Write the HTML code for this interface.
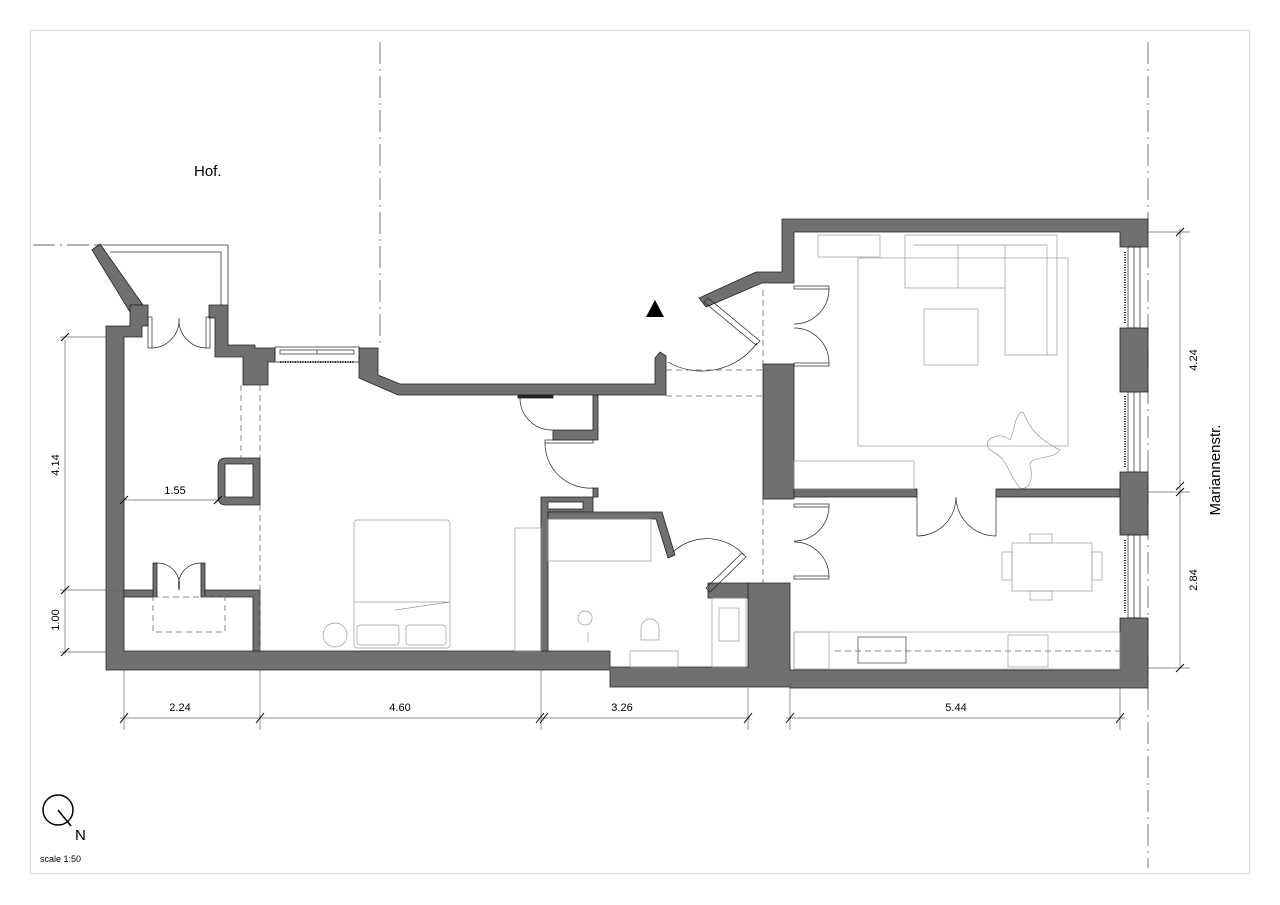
<!DOCTYPE html>
<html><head><meta charset="utf-8"><style>
html,body{margin:0;padding:0;background:#fff}
svg{display:block}
text{font-family:"Liberation Sans",sans-serif;fill:#000}
</style></head><body>
<svg width="1280" height="905" viewBox="0 0 1280 905" xmlns="http://www.w3.org/2000/svg">
<rect x="0" y="0" width="1280" height="905" fill="#fff"/>
<rect x="30.5" y="30.5" width="1219" height="843" fill="none" stroke="#d8d8d8" stroke-width="1"/>
<line x1="380" y1="42" x2="380" y2="345" stroke="#555" stroke-width="0.8" stroke-dasharray="22,5,2,5"/>
<line x1="1148" y1="42" x2="1148" y2="868" stroke="#555" stroke-width="0.8" stroke-dasharray="22,5,2,5"/>
<line x1="33" y1="245" x2="96" y2="245" stroke="#333" stroke-width="0.8" stroke-dasharray="22,5,2,5"/>
<polyline points="96,245 228,245 228,305" fill="none" stroke="#333" stroke-width="0.8"/>
<polyline points="110,252 221,252 221,305" fill="none" stroke="#333" stroke-width="0.8"/>

<g fill="#707070" stroke="#222" stroke-width="0.8">
<polygon points="92,250 100,244 143,305 130,305 130,312"/>
<polygon points="106,326 130,326 130,305 148,305 148,326 142,326 142,337 124,337 124,651 610,651 610,667 748,667 748,583 790,583 790,670 1120,670 1120,618 1148,618 1148,688 790,688 790,687 610,687 610,670 106,670"/>
<polygon points="209,305 228,305 228,345 255,345 255,348 275,348 275,362 268,362 268,385 243,385 243,357 215,357 215,318 209,318"/>
<polygon points="359,348 378,348 378,375 400,384 655,384 655,358 660,352 666,356 666,395 398,395 359,378"/>
<polygon points="782,219 1148,219 1148,247 1120,247 1120,232 794,232 794,283 762,283 706,307 699,298 756,272 782,272"/>
<rect x="1120" y="328" width="28" height="64"/>
<rect x="1120" y="472" width="28" height="63"/>
<rect x="763" y="364" width="31" height="135"/>
<rect x="794" y="489" width="123" height="8"/>
<rect x="996" y="489" width="124" height="8"/>
<path d="M226,458 H260 V505 H226 Q218,505 218,497 V466 Q218,458 226,458 Z M225,464 V497 H253 V464 Z" fill-rule="evenodd"/>
<rect x="124" y="590" width="29" height="7"/>
<polygon points="205,590 260,590 260,651 253,651 253,597 205,597"/>
<rect x="153" y="563" width="4" height="34"/>
<rect x="201" y="563" width="4" height="34"/>
<polygon points="593,395 598,395 598,440 553,440 553,430 593,430"/>
<rect x="518" y="395" width="35" height="3" fill="#222"/>
<polygon points="541,497 598,497 598,488 593,488 593,512 548,512 548,651 541,651"/>
<rect x="548" y="502" width="35" height="7" fill="#fff"/>
<polygon points="548,512 662,512 675,555 668,558 656,519 548,519"/>
<polygon points="708,583 748,583 748,598 708,598"/>
</g>

<g fill="none" stroke="#222" stroke-width="0.7">
<rect x="275" y="347" width="84" height="15"/>
<rect x="280" y="350" width="74" height="4"/>
<line x1="317" y1="350" x2="317" y2="354"/>
<line x1="280" y1="362" x2="354" y2="362" stroke-dasharray="1,1.5" stroke-width="2"/>
</g>
<g fill="none" stroke="#222" stroke-width="0.7">
<rect x="1128" y="247" width="12" height="81"/>
<rect x="1128" y="392" width="12" height="80"/>
<rect x="1128" y="535" width="12" height="83"/>
<line x1="1134" y1="247" x2="1134" y2="328"/>
<line x1="1134" y1="392" x2="1134" y2="472"/>
<line x1="1134" y1="535" x2="1134" y2="618"/>
<line x1="1125" y1="252" x2="1125" y2="323" stroke-dasharray="1,1.5" stroke-width="2"/>
<line x1="1125" y1="396" x2="1125" y2="468" stroke-dasharray="1,1.5" stroke-width="2"/>
<line x1="1125" y1="540" x2="1125" y2="613" stroke-dasharray="1,1.5" stroke-width="2"/>
</g>

<g fill="none" stroke="#222" stroke-width="0.7">
<rect x="148" y="317" width="4" height="31"/>
<rect x="206" y="317" width="4" height="31"/>
<path d="M152,348 A28,28 0 0 0 179,318 M206,348 A28,28 0 0 1 179,318"/>
<path d="M157,563 A22,22 0 0 1 179,590 M201,563 A22,22 0 0 0 179,590"/>
<polygon points="704,302 708,298 760,341 756,345"/>
<path d="M757,343 A68,68 0 0 1 668,362"/>
<rect x="794" y="286" width="35" height="3"/>
<rect x="794" y="363" width="35" height="3"/>
<path d="M829,289 A35,35 0 0 1 794,324 M829,363 A35,35 0 0 0 794,328"/>
<rect x="794" y="504" width="35" height="3"/>
<rect x="794" y="576" width="35" height="3"/>
<path d="M829,507 A35,35 0 0 1 794,541 M829,576 A35,35 0 0 0 794,542"/>
<line x1="917" y1="497" x2="917" y2="536"/>
<line x1="996" y1="497" x2="996" y2="536"/>
<path d="M917,536 A39,39 0 0 0 956,497 M996,536 A40,40 0 0 1 956,497"/>
<path d="M520,398 A32,32 0 0 0 553,430"/>
<rect x="545" y="440" width="48" height="3"/>
<path d="M545,443 A45,45 0 0 0 593,488"/>
<polygon points="706,588 710,592 746,557 742,553"/>
<path d="M744,555 A50,50 0 0 0 673,552"/>
</g>

<g stroke="#666" stroke-width="0.8" stroke-dasharray="6,4" fill="none">
<line x1="241" y1="385" x2="241" y2="458"/>
<line x1="260" y1="385" x2="260" y2="458"/>
<line x1="260" y1="505" x2="260" y2="651"/>
<rect x="153" y="597" width="72" height="35"/>
<line x1="666" y1="370" x2="763" y2="370"/>
<line x1="666" y1="396" x2="763" y2="396"/>
<line x1="763" y1="290" x2="763" y2="364"/>
<line x1="763" y1="499" x2="763" y2="583"/>
<line x1="835" y1="651" x2="1120" y2="651"/>
</g>

<g fill="none" stroke="#9a9a9a" stroke-width="0.7">
<rect x="354" y="520" width="96" height="128" rx="3"/>
<line x1="354" y1="602" x2="450" y2="602"/>
<line x1="395" y1="610" x2="450" y2="602"/>
<rect x="357" y="625" width="42" height="20" rx="3"/>
<rect x="406" y="625" width="40" height="20" rx="3"/>
<circle cx="335" cy="635" r="12"/>
<rect x="515" y="528" width="26" height="123"/>
<rect x="548" y="519" width="103" height="42"/>
<path d="M585,625 a7,7 0 1 1 0.1,0 M588,632 v10"/>
<path d="M641,640 v-12 a9,9 0 0 1 18,0 v12 z"/>
<rect x="630" y="651" width="48" height="16"/>
<rect x="712" y="598" width="34" height="69"/>
<rect x="719" y="608" width="20" height="33"/>
<rect x="818" y="235" width="62" height="22"/>
<rect x="858" y="258" width="210" height="188"/>
<polygon points="905,235 1057,235 1057,355 1005,355 1005,288 905,288"/>
<line x1="913" y1="245" x2="1047" y2="245"/>
<line x1="958" y1="245" x2="958" y2="288"/>
<line x1="1005" y1="245" x2="1005" y2="288"/>
<line x1="1047" y1="245" x2="1047" y2="355"/>
<rect x="924" y="309" width="54" height="56"/>
<path d="M1023,412 C1030,430 1040,440 1060,450 C1055,460 1030,455 1030,465 C1035,485 1025,490 1020,488 C1005,470 1010,460 990,450 C980,440 1000,430 1010,440 C1015,430 1015,412 1023,412 Z"/>
<rect x="794" y="461" width="120" height="28"/>
<rect x="1012" y="543" width="80" height="48"/>
<rect x="1030" y="534" width="22" height="9"/>
<rect x="1030" y="591" width="22" height="9"/>
<rect x="1002" y="552" width="10" height="28"/>
<rect x="1092" y="552" width="10" height="28"/>
<rect x="794" y="632" width="326" height="37"/>
<rect x="794" y="632" width="35" height="37"/>
<rect x="1008" y="635" width="40" height="32"/>
<rect x="858" y="637" width="48" height="26" stroke="#444"/>
</g>
<polygon points="646,317 664,317 655,300" fill="#000"/>

<g stroke="#666" stroke-width="0.7" fill="none">
<line x1="65" y1="340" x2="65" y2="655"/>
<line x1="60" y1="337" x2="106" y2="337"/>
<line x1="60" y1="590" x2="124" y2="590"/>
<line x1="60" y1="652" x2="106" y2="652"/>
<line x1="124" y1="500" x2="218" y2="500"/>
<line x1="120" y1="718" x2="750" y2="718"/>
<line x1="786" y1="718" x2="1125" y2="718"/>
<line x1="124" y1="670" x2="124" y2="730"/>
<line x1="260" y1="670" x2="260" y2="730"/>
<line x1="541" y1="670" x2="541" y2="730"/>
<line x1="748" y1="688" x2="748" y2="730"/>
<line x1="790" y1="688" x2="790" y2="730"/>
<line x1="1120" y1="688" x2="1120" y2="730"/>
<line x1="1180" y1="228" x2="1180" y2="668"/>
<line x1="1148" y1="232" x2="1190" y2="232"/>
<line x1="1148" y1="492" x2="1190" y2="492"/>
<line x1="1148" y1="668" x2="1190" y2="668"/>
</g>
<g stroke="#000" stroke-width="1">
<path d="M61,341 l8,-8 M61,594 l8,-8 M61,656 l8,-8 M120,504 l8,-8 M214,504 l8,-8
M120,723 l8,-10 M256,723 l8,-10 M536,723 l8,-10 M540,723 l8,-10 M744,723 l8,-10 M786,723 l8,-10 M1116,723 l8,-10
M1176,236 l8,-8 M1176,490 l8,-8 M1176,496 l8,-8 M1176,672 l8,-8"/>
</g>
<g font-size="11">
<text x="180" y="711" text-anchor="middle">2.24</text>
<text x="400" y="711" text-anchor="middle">4.60</text>
<text x="622" y="711" text-anchor="middle">3.26</text>
<text x="956" y="711" text-anchor="middle">5.44</text>
<text x="175" y="494" text-anchor="middle">1.55</text>
<text transform="translate(59,465) rotate(-90)" text-anchor="middle">4.14</text>
<text transform="translate(59,620) rotate(-90)" text-anchor="middle">1.00</text>
<text transform="translate(1197,360) rotate(-90)" text-anchor="middle">4.24</text>
<text transform="translate(1197,580) rotate(-90)" text-anchor="middle">2.84</text>
</g>
<text x="194" y="176" font-size="15">Hof.</text>
<text transform="translate(1220,470) rotate(-90)" font-size="15" text-anchor="middle">Mariannenstr.</text>
<circle cx="58" cy="810" r="15" fill="none" stroke="#000" stroke-width="1.5"/>
<line x1="58" y1="810" x2="71" y2="826" stroke="#000" stroke-width="1.5"/>
<text x="75" y="840" font-size="15">N</text>
<text x="40" y="862" font-size="9">scale 1:50</text>
</svg>
</body></html>
